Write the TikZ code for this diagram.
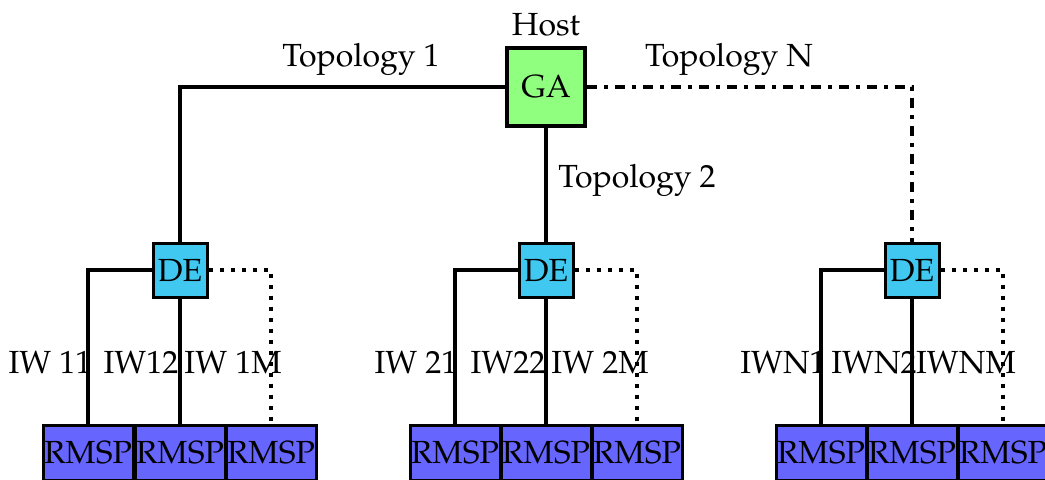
\documentclass[tikz,border=0pt]{standalone}
\usepackage[T1]{fontenc}
\usepackage{mathpazo}
\definecolor{gaGreen}{RGB}{144,255,128}
\definecolor{deCyan}{RGB}{64,200,240}
\definecolor{rmspBlue}{RGB}{102,102,255}
\begin{document}
\begin{tikzpicture}[x=0.5pt,y=-0.5pt,
  every node/.style={font=\fontsize{16}{19}\selectfont},
  box/.style={draw, rectangle, inner sep=0pt, line width=1.5pt},
  gabox/.style={box, fill=gaGreen, line width=2pt, minimum size=39pt},
  debox/.style={box, fill=deCyan, minimum size=27pt},
  rmspbox/.style={box, fill=rmspBlue, minimum width=45pt, minimum height=27.5pt},
  link/.style={line width=2pt},
  dotlink/.style={line width=2pt, dash pattern=on 2pt off 3.5pt},
  dashdotlink/.style={line width=2pt, dash pattern=on 5pt off 3.5pt on 2pt off 3.5pt},
  lbl/.style={anchor=base, inner sep=0pt}]

\useasboundingbox (0,0) rectangle (1045,479);

% host and its aggregator
\node[gabox] (ga) at (546,87) {GA};
\node[lbl] (host) at (546,35) {Host};

% one distribution element per topology
\node[debox] (de1) at (180,270) {DE};
\node[debox] (de2) at (546,270) {DE};
\node[debox] (de3) at (912,270) {DE};

% RMSP units below each distribution element
\node[rmspbox] (r11) at (88,453)  {RMSP};
\node[rmspbox] (r12) at (180,453) {RMSP};
\node[rmspbox] (r13) at (271,453) {RMSP};
\node[rmspbox] (r21) at (455,453) {RMSP};
\node[rmspbox] (r22) at (546,453) {RMSP};
\node[rmspbox] (r23) at (637,453) {RMSP};
\node[rmspbox] (r31) at (821,453) {RMSP};
\node[rmspbox] (r32) at (912,453) {RMSP};
\node[rmspbox] (r33) at (1003,453) {RMSP};

% topology links
\draw[link] (ga.west) -| (de1.north);
\draw[link] (ga.south) -- (de2.north);
\draw[dashdotlink] (ga.east) -| (de3.north);

% worker links
\foreach \i in {1,2,3}{
  \draw[link] (de\i.west) -| (r\i1.north);
  \draw[link] (de\i.south) -- (r\i2.north);
  \draw[dotlink] (de\i.east) -| (r\i3.north);
}

% labels
\node[lbl] (t1) at (361,66) {Topology 1};
\node[lbl] (tn) at (729,66) {Topology N};
\node[lbl] (t2) at (637,187) {Topology 2};

\node[lbl] (iw11) at (50,373)  {IW 11};
\node[lbl] (iw12) at (141,373) {IW12};
\node[lbl] (iw1m) at (233,373) {IW 1M};
\node[lbl] (iw21) at (416,373) {IW 21};
\node[lbl] (iw22) at (508,373) {IW22};
\node[lbl] (iw2m) at (600,373) {IW 2M};
\node[lbl] (iwn1) at (783,373) {IWN1};
\node[lbl] (iwn2) at (874,373) {IWN2};
\node[lbl] (iwnm) at (966,373) {IWNM};
\end{tikzpicture}
\end{document}
